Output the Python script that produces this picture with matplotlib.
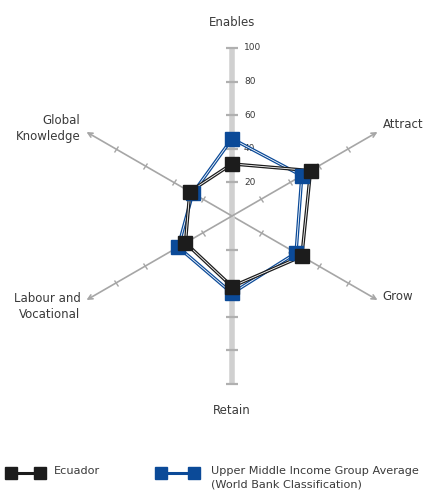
import numpy as np
import matplotlib
matplotlib.use("Agg")
import matplotlib.pyplot as plt
import matplotlib.patheffects as pe
from matplotlib.markers import MarkerStyle
from matplotlib.transforms import Affine2D
from matplotlib.lines import Line2D

plt.rcParams['font.family'] = ['DejaVu Sans']

categories = ["Enables", "Attract", "Grow", "Retain", "Labour and\nVocational", "Global\nKnowledge"]
ecuador = [31, 54, 48, 42, 32, 29]
umi_avg = [46, 48, 44, 46, 37, 27]
ticks = [20, 40, 60, 80, 100]
tick_labels = ["20", "40", "60", "80", "100"]
series_names = ["Ecuador", "Upper Middle Income Group Average\n(World Bank Classification)"]

BLACK = "#1c1c1c"
BLUE = "#0b4a98"
TEXT = "#3a3a3a"

fig = plt.figure(figsize=(4.27, 4.93), dpi=100)
R = 168
cx, cy = 232, 216
ax = fig.add_axes([(cx - R) / 427, (493 - cy - R) / 493, 2 * R / 427, 2 * R / 493], projection="polar")
ax.set_theta_zero_location("N")
ax.set_theta_direction(-1)
ax.set_ylim(0, 100)
ax.grid(False)
ax.set_xticks([])
ax.set_yticks([])
ax.spines["polar"].set_visible(False)
ax.patch.set_alpha(0)

n = len(categories)
angles = np.arange(n) * 2 * np.pi / n
angles_deg = np.degrees(angles)

# spokes
for i, th in enumerate(angles):
    rot = 90 - angles_deg[i]
    ms = MarkerStyle("|", transform=Affine2D().rotate_deg(rot))
    if i in (0, 3):
        ax.plot([th, th], [0, 100], color="#d0d0d0", lw=4, solid_capstyle="butt", zorder=1, clip_on=False)
        ax.plot([th] * len(ticks), ticks, ls="none", marker=ms, markersize=8,
                markeredgewidth=1.6, color="#b0b0b0", zorder=2, clip_on=False)
    else:
        ax.annotate("", xy=(th, 100), xytext=(th, 0),
                    arrowprops=dict(arrowstyle="->", color="#a6a6a6", lw=1.2,
                                    shrinkA=0, shrinkB=0, mutation_scale=8),
                    zorder=1, annotation_clip=False)
        ax.plot([th] * (len(ticks) - 1), ticks[:-1], ls="none", marker=ms, markersize=5,
                markeredgewidth=1.0, color="#a6a6a6", zorder=2, clip_on=False)

# radial tick labels on Enables axis
for t, lab in zip(ticks, tick_labels):
    ax.annotate(lab, xy=(0, t), xytext=(12, 0), textcoords="offset pixels",
                ha="left", va="center", fontsize=6.5, color=TEXT, annotation_clip=False)

# series
th_closed = np.concatenate([angles, angles[:1]])
for vals, col in [(umi_avg, BLUE), (ecuador, BLACK)]:
    v = np.concatenate([vals, vals[:1]])
    ax.plot(th_closed, v, color="white", lw=0.6, zorder=4, clip_on=False,
            path_effects=[pe.Stroke(linewidth=2.4, foreground=col), pe.Normal()])
    ax.plot(angles, vals, ls="none", marker="s", markersize=10.5, color=col,
            markeredgecolor=col, zorder=5, clip_on=False)

# category labels
label_specs = [
    ((0, 26), "center", "center", "center"),
    ((5, 7), "left", "center", "left"),
    ((5, 3), "left", "center", "left"),
    ((0, -26), "center", "center", "center"),
    ((-6, 8), "right", "top", "right"),
    ((-6, -11), "right", "bottom", "right"),
]
for th, lab, (off, ha, va, ma) in zip(angles, categories, label_specs):
    ax.annotate(lab, xy=(th, 100), xytext=off, textcoords="offset pixels",
                ha=ha, va=va, multialignment=ma, fontsize=8.5, color=TEXT,
                annotation_clip=False, linespacing=1.3)

# legend (manual)
def legend_item(x0, x1, y, col, label, tx):
    fy = 1 - y / 493
    fig.add_artist(Line2D([x0 / 427, x1 / 427], [fy, fy], color=col, lw=2.2,
                          marker="s", markersize=8, markeredgecolor=col,
                          transform=fig.transFigure))
    fig.text(tx / 427, 1 - (y - 7) / 493, label, ha="left", va="top",
             fontsize=8.1, color=TEXT, linespacing=1.4)

legend_item(11, 40, 473, BLACK, series_names[0], 54)
legend_item(161, 194, 473, BLUE, series_names[1], 211)

fig.savefig("out.png", dpi=100)
